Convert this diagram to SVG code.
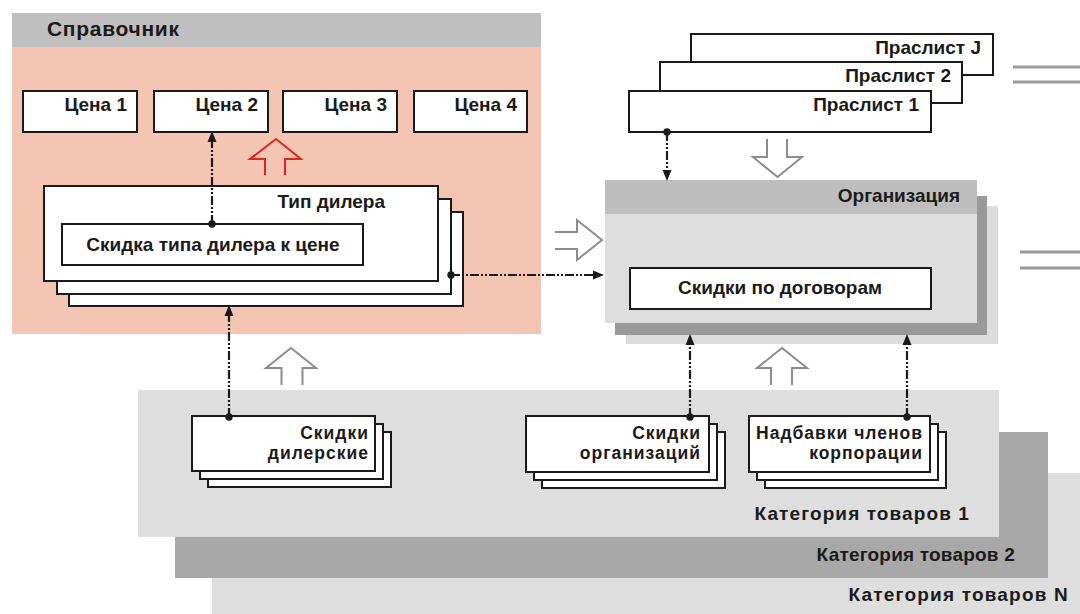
<svg xmlns="http://www.w3.org/2000/svg" width="1080" height="614" viewBox="0 0 1080 614">
<defs>
<style>
.t{font-family:"Liberation Sans",Arial,sans-serif;font-weight:bold;font-size:19px;fill:#1a1a1a}
.c{font-size:17.5px;letter-spacing:1px}
.e{text-anchor:end}
.m{text-anchor:middle}
.box{fill:#fff;stroke:#1a1a1a;stroke-width:2}
.conn{fill:none;stroke:#1a1a1a;stroke-width:2.2;stroke-dasharray:9 2 2 2 2 2}
.hollow{fill:none;stroke:#8c8c8c;stroke-width:2}
.dbl{stroke:#9a9a9a;stroke-width:3}
</style>
<marker id="ah" markerUnits="userSpaceOnUse" markerWidth="11" markerHeight="10" refX="4" refY="5" orient="auto">
<path d="M0,0.5 L11,5 L0,9.5 z" fill="#1a1a1a"/>
</marker>
<marker id="dot" markerUnits="userSpaceOnUse" markerWidth="9" markerHeight="9" refX="4.5" refY="4.5" orient="auto">
<circle cx="4.5" cy="4.5" r="3.7" fill="#1a1a1a"/>
</marker>
</defs>
<rect width="1080" height="614" fill="#fff"/>

<!-- Categories -->
<g id="category-n">
<rect x="212" y="473" width="868" height="141" fill="#dedede"/>
<text class="t e" x="1069" y="601" letter-spacing="1.2">Категория товаров N</text>
</g>
<g id="category-2">
<rect x="175" y="432" width="873" height="146" fill="#a8a8a8"/>
<text class="t e" x="1015" y="561" letter-spacing="0.2">Категория товаров 2</text>
</g>
<g id="category-1">
<rect x="138" y="390" width="861" height="147" fill="#dedede"/>
<text class="t e" x="970" y="520" letter-spacing="1.1">Категория товаров 1</text>
</g>

<!-- Справочник -->
<g id="spravochnik">
<rect x="12" y="13" width="529" height="321" fill="#f5c5b4"/>
<rect x="12" y="13" width="529" height="34" fill="#bfbfbf"/>
<text class="t" x="47" y="36" style="font-size:21px" letter-spacing="0.7">Справочник</text>
</g>
<g id="price-1"><rect class="box" x="23" y="91" width="114" height="41"/><text class="t e" x="127" y="111">Цена 1</text></g>
<g id="price-2"><rect class="box" x="154" y="91" width="114" height="41"/><text class="t e" x="258" y="111">Цена 2</text></g>
<g id="price-3"><rect class="box" x="283" y="91" width="114" height="41"/><text class="t e" x="387" y="111">Цена 3</text></g>
<g id="price-4"><rect class="box" x="414" y="91" width="113" height="41"/><text class="t e" x="517" y="111">Цена 4</text></g>

<g id="dealer-type">
<rect class="box" x="69" y="212" width="394" height="94"/>
<rect class="box" x="57" y="199" width="394" height="95"/>
<rect class="box" x="44" y="186" width="394" height="95"/>
<text class="t e" x="385" y="208">Тип дилера</text>
</g>
<g id="dealer-discount">
<rect class="box" x="62" y="224" width="301" height="41"/>
<text class="t m" x="213" y="251">Скидка типа дилера к цене</text>
</g>

<!-- Price lists -->
<g id="pricelist-j"><rect class="box" x="691" y="34" width="302" height="41"/><text class="t e" x="981" y="54">Праслист J</text></g>
<g id="pricelist-2"><rect class="box" x="660" y="62" width="302" height="41"/><text class="t e" x="951" y="82">Праслист 2</text></g>
<g id="pricelist-1"><rect class="box" x="629" y="91" width="302" height="41"/><text class="t e" x="919" y="111">Праслист 1</text></g>

<!-- Организация -->
<g id="organization">
<rect x="626" y="206" width="372" height="138" fill="#dcdcdc"/>
<rect x="615" y="196" width="372" height="139" fill="#999"/>
<rect x="605" y="180" width="372" height="143" fill="#dedede"/>
<rect x="605" y="180" width="372" height="34" fill="#bebebe"/>
<text class="t e" x="960" y="202">Организация</text>
</g>
<g id="contract-discounts">
<rect class="box" x="630" y="268" width="301" height="41"/>
<text class="t m" x="780" y="294">Скидки по договорам</text>
</g>

<!-- Cards -->
<g id="dealer-discounts">
<rect class="box" x="208" y="432" width="183" height="55"/>
<rect class="box" x="200" y="424" width="183" height="55"/>
<rect class="box" x="192" y="416" width="183" height="55"/>
<text class="t c e" x="369" y="439">Скидки</text>
<text class="t c e" x="369" y="459">дилерские</text>
</g>
<g id="org-discounts">
<rect class="box" x="542" y="432" width="183" height="56"/>
<rect class="box" x="534" y="424" width="183" height="56"/>
<rect class="box" x="526" y="416" width="183" height="56"/>
<text class="t c e" x="701" y="439">Скидки</text>
<text class="t c e" x="701" y="459">организаций</text>
</g>
<g id="corp-markups">
<rect class="box" x="765" y="432" width="181" height="56"/>
<rect class="box" x="757" y="424" width="181" height="56"/>
<rect class="box" x="749" y="416" width="181" height="56"/>
<text class="t c e" x="923" y="439">Надбавки членов</text>
<text class="t c e" x="923" y="459">корпорации</text>
</g>

<!-- Hollow arrows and side lines -->
<g id="flow-arrows">
<path d="M265 175 V159 H250 L276 139 L301 159 H285 V175" fill="none" stroke="#e0261c" stroke-width="2"/>
<path class="hollow" d="M767 139 V157 H753 L777.5 177 L802 157 H787 V139"/>
<path class="hollow" d="M555 232 H577 V220 L602 240 L577 260 V249 H555"/>
<path class="hollow" d="M281.5 385 V368 H266 L291 348 L316 368 H302.5 V385"/>
<path class="hollow" d="M771 385 V368 H757 L782 348 L807 368 H792 V385"/>
<line class="dbl" x1="1013" y1="67" x2="1080" y2="67"/>
<line class="dbl" x1="1013" y1="82" x2="1080" y2="82"/>
<line class="dbl" x1="1020" y1="252" x2="1080" y2="252"/>
<line class="dbl" x1="1020" y1="268" x2="1080" y2="268"/>
</g>

<!-- Connectors -->
<g id="connectors">
<path class="conn" d="M212 224 V138" marker-start="url(#dot)" marker-end="url(#ah)"/>
<path class="conn" d="M451 275 H597" marker-start="url(#dot)" marker-end="url(#ah)"/>
<path class="conn" d="M229 417 V312" marker-start="url(#dot)" marker-end="url(#ah)"/>
<path class="conn" d="M667 132 V174" marker-start="url(#dot)" marker-end="url(#ah)"/>
<path class="conn" d="M690 417 V341" marker-start="url(#dot)" marker-end="url(#ah)"/>
<path class="conn" d="M907 417 V341" marker-start="url(#dot)" marker-end="url(#ah)"/>
</g>
</svg>
